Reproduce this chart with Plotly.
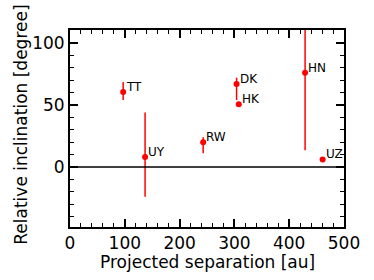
import plotly.graph_objects as go

names = ["TT", "UY", "RW", "DK", "HK", "HN", "UZ"]
separation = [97, 137, 243, 304, 308, 429, 461]
inclination = [60.5, 8, 20, 67, 50.5, 76, 6]
err_plus = [8, 36, 4, 5, 0, 60, 0]
err_minus = [6.5, 32, 9, 13, 0, 62.5, 0]

x_ticks = [0, 100, 200, 300, 400, 500]
y_ticks = [0, 50, 100]
x_range = [0, 500]
y_range = [-48.5, 110.5]

FONT = "DejaVu Sans"

fig = go.Figure()
fig.add_trace(go.Scatter(
    x=separation, y=inclination, mode="markers",
    marker=dict(color="red", size=6),
    error_y=dict(type="data", symmetric=False, array=err_plus, arrayminus=err_minus,
                 color="red", thickness=1.5, width=0),
    showlegend=False, hoverinfo="skip",
))
# invisible trace to carry the mirrored top/right axes
fig.add_trace(go.Scatter(x=[separation[0]], y=[inclination[0]], xaxis="x2", yaxis="y2",
                         mode="markers", marker=dict(opacity=0), showlegend=False,
                         hoverinfo="skip"))

for n, xv, yv in zip(names, separation, inclination):
    fig.add_annotation(x=xv, y=yv, text=n, showarrow=False, xanchor="left",
                       yanchor="middle", xshift=1, yshift=5,
                       font=dict(family=FONT, size=12, color="black"))

fig.add_shape(type="line", xref="paper", x0=0, x1=1, yref="y", y0=0, y1=0,
              line=dict(color="black", width=1.5))

fig.add_annotation(text="Projected separation [au]", xref="paper", yref="paper",
                   x=0.5, y=-0.18, xanchor="center", yanchor="middle", showarrow=False,
                   font=dict(family=FONT, size=17, color="black"))
fig.add_annotation(text="Relative inclination [degree]", xref="paper", yref="paper",
                   x=-0.182, y=0.52, xanchor="center", yanchor="middle", showarrow=False,
                   textangle=-90, font=dict(family=FONT, size=17, color="black"))

axis_common = dict(showline=True, linecolor="black", linewidth=2,
                   ticks="inside", ticklen=8, tickwidth=1.5, tickcolor="black",
                   showgrid=False, zeroline=False, automargin=False, fixedrange=True,
                   tickfont=dict(family=FONT, size=17, color="black"))
x_minor = dict(ticks="inside", dtick=20, ticklen=4, tickwidth=1.2, tickcolor="black")
y_minor = dict(ticks="inside", dtick=10, ticklen=4, tickwidth=1.2, tickcolor="black")

fig.update_layout(
    xaxis=dict(range=x_range, tickvals=x_ticks, minor=x_minor, **axis_common),
    yaxis=dict(range=y_range, tickvals=y_ticks, minor=y_minor, **axis_common),
    xaxis2=dict(range=x_range, tickvals=x_ticks, minor=x_minor, overlaying="x",
                side="top", showticklabels=False, anchor="y", **axis_common),
    yaxis2=dict(range=y_range, tickvals=y_ticks, minor=y_minor, overlaying="y",
                side="right", showticklabels=False, anchor="x", **axis_common),
    width=374, height=280, margin=dict(l=70, r=30, t=30, b=53),
    plot_bgcolor="white", paper_bgcolor="white",
    font=dict(family=FONT, color="black"),
)

fig.write_html("out.html", config={"displayModeBar": False},
               post_script="document.body.style.margin='0px';")
